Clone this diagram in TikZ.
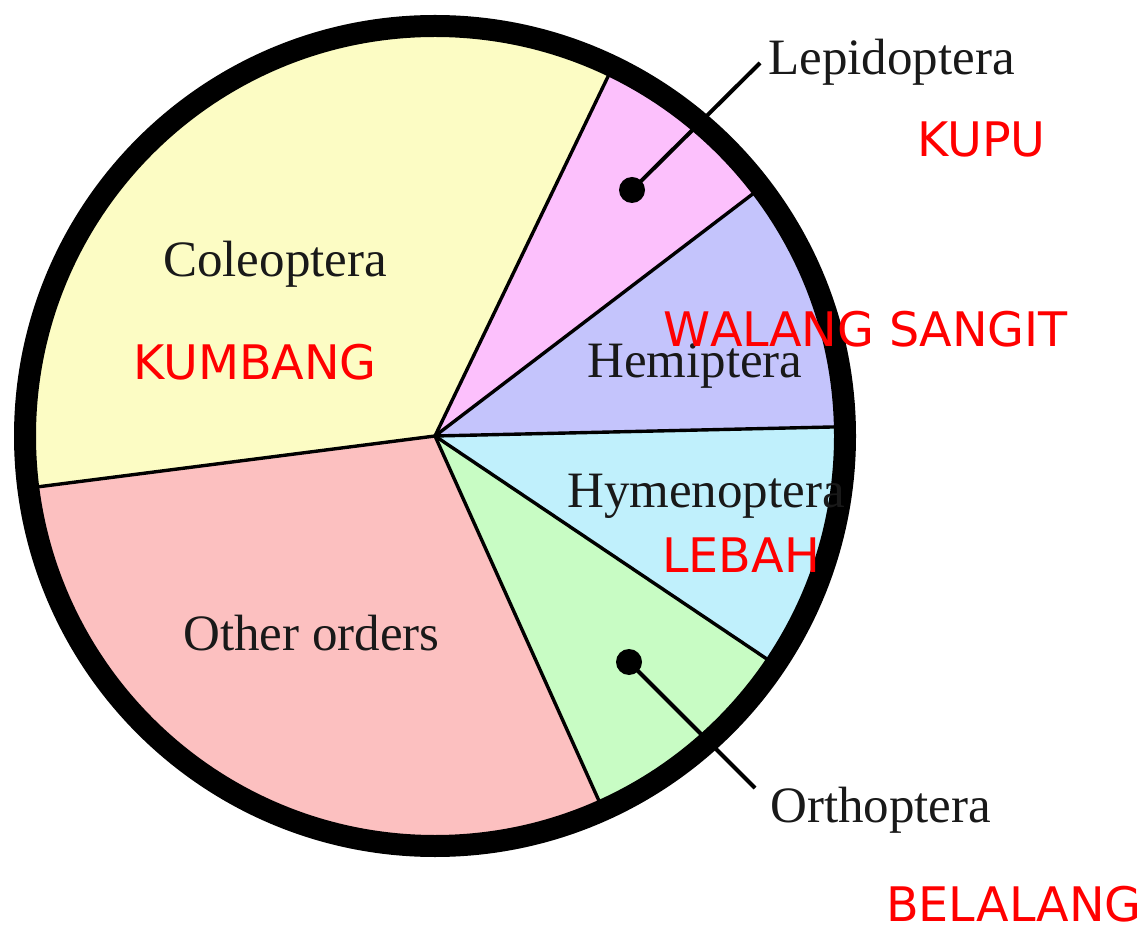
\documentclass[tikz,border=0pt]{standalone}
\usepackage{fontspec}
\usetikzlibrary{calc}
\setmainfont{Liberation Serif}
\newfontfamily\redfont{DejaVu Sans}
\newfontfamily\redfontnk[Kerning=Off]{DejaVu Sans}
\definecolor{colY}{RGB}{252,252,196}
\definecolor{lepP}{RGB}{252,192,252}
\definecolor{hemB}{RGB}{196,196,252}
\definecolor{hymC}{RGB}{192,240,252}
\definecolor{ortG}{RGB}{200,252,196}
\definecolor{othR}{RGB}{252,192,192}
\definecolor{inkK}{RGB}{25,25,25}
\tikzset{
  blabel/.style={inner sep=0pt, anchor=base west, text=inkK, font=\fontsize{51}{56}\selectfont},
  rlabel/.style={inner sep=0pt, anchor=base west, text=red, font=\redfont\fontsize{47.6}{52}\selectfont},
  divider/.style={line width=3.4pt, black},
  rim/.style={line width=22pt, black},
  leader/.style={line width=4pt, black},
  dotmark/.style={circle, fill=black, inner sep=0pt, minimum size=26pt}
}
\begin{document}
\begin{tikzpicture}[x=1pt,y=1pt]
\useasboundingbox (0,0) rectangle (1142,927);
\coordinate (C) at (435,491);
% sectors
\fill[colY] (C) -- ++(64.3:410) arc[start angle=64.3, end angle=187.3, radius=410] -- cycle;
\fill[lepP] (C) -- ++(37.3:410) arc[start angle=37.3, end angle=64.3, radius=410] -- cycle;
\fill[hemB] (C) -- ++(1.3:410) arc[start angle=1.3, end angle=37.3, radius=410] -- cycle;
\fill[hymC] (C) -- ++(-33.9:410) arc[start angle=-33.9, end angle=1.3, radius=410] -- cycle;
\fill[ortG] (C) -- ++(-65.8:410) arc[start angle=-65.8, end angle=-33.9, radius=410] -- cycle;
\fill[othR] (C) -- ++(-172.7:410) arc[start angle=-172.7, end angle=-65.8, radius=410] -- cycle;
% dividers
\coordinate (e1) at ($(C)+(64.3:405)$);
\coordinate (e2) at ($(C)+(37.3:405)$);
\coordinate (e3) at ($(C)+(1.3:405)$);
\coordinate (e4) at ($(C)+(-33.9:405)$);
\coordinate (e5) at ($(C)+(-65.8:405)$);
\coordinate (e6) at ($(C)+(187.3:405)$);
\foreach \e in {e1,e2,e3,e4,e5,e6} \draw[divider] (C) -- (\e);
% rim
\draw[rim] (C) circle[radius=410];
% labels
\node[blabel] (cole) at (163,650) {Coleoptera};
\node[blabel] (hemi) at (587,549) {Hemiptera};
\node[blabel] (hyme) at (567,419) {Hymenoptera};
\node[blabel] (other) at (183,277) {Other orders};
\node[blabel] (lepi) at (768,852) {Lepidoptera};
\node[blabel] (orth) at (770,105) {Orthoptera};
% leaders
\node[dotmark] (lepdot) at (632,737) {};
\coordinate (lepend) at (760,864);
\draw[leader] (lepdot.center) -- (lepend);
\node[dotmark] (ortdot) at (629,265) {};
\coordinate (ortend) at (755,139);
\draw[leader] (ortdot.center) -- (ortend);
% red labels
\node[rlabel] (kupu) at (917,770) {KUPU};
\node[rlabel, font=\redfontnk\fontsize{47.6}{52}\selectfont] (walang) at (663,580) {WALANG SANGIT};
\node[rlabel] (kumbang) at (133,547) {KUMBANG};
\node[rlabel] (lebah) at (662,355) {LEBAH};
\node[rlabel] (belalang) at (886,6) {BELALANG};
\end{tikzpicture}
\end{document}
